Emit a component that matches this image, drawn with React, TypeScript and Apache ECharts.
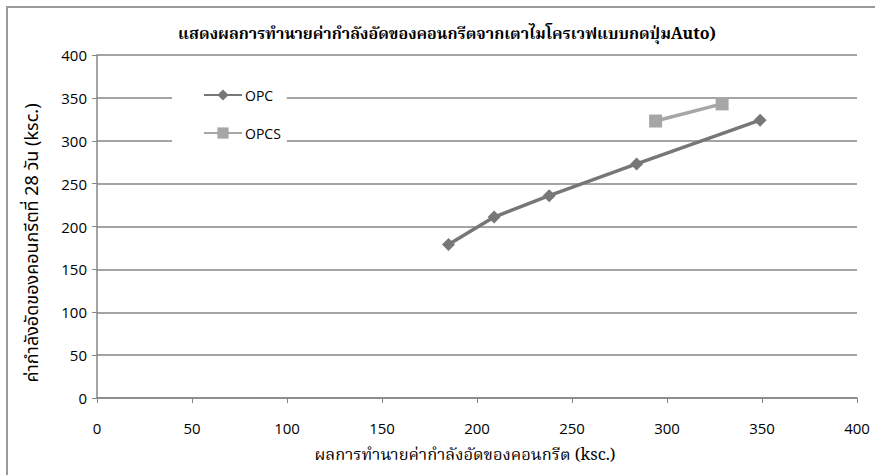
import React, { useEffect, useRef } from "react";
import * as echarts from "echarts";

const titleText = "แสดงผลการทำนายค่ากำลังอัดของคอนกรีตจากเตาไมโครเวฟแบบกดปุ่มAuto)";
const xAxisName = "ผลการทำนายค่ากำลังอัดของคอนกรีต (ksc.)";
const yAxisName = "ค่ากำลังอัดของคอนกรีตที่ 28 วัน (ksc.)";

const seriesNames = ["OPC", "OPCS"];
const opcX = [185, 209, 238, 284, 349];
const opcY = [179, 211, 236, 273, 324];
const opcsX = [294, 329];
const opcsY = [323, 343];

const axisMin = 0;
const axisMax = 400;
const axisInterval = 50;

const thaiSerif = "'Noto Serif Thai', 'Angsana New', 'Tlwg Typo', 'Norasi', 'Noto Sans Thai', 'Liberation Serif', serif";
const thaiSans = "'Noto Sans Thai', 'Tahoma', 'Loma', 'Garuda', 'Noto Sans', 'DejaVu Sans', sans-serif";
const numFont = "'Open Sans', 'Noto Sans', sans-serif";

export default function App() {
  const ref = useRef<HTMLDivElement>(null);
  useEffect(() => {
    if (!ref.current) return;
    const chart = echarts.init(ref.current, undefined, { renderer: "svg" });
    const gray = "#868686";
    chart.setOption({
      animation: false,
      backgroundColor: "#ffffff",
      grid: { left: 97, right: 18, top: 55, bottom: 77, containLabel: false },
      title: {
        text: titleText,
        left: 442,
        textAlign: "center",
        top: 22,
        textStyle: { fontFamily: thaiSerif, fontWeight: "bold", fontSize: 16, color: "#000" },
      },
      legend: {
        orient: "vertical",
        left: 172,
        top: 82,
        padding: [6, 6, 6, 31],
        itemGap: 24,
        itemWidth: 38,
        itemHeight: 14,
        backgroundColor: "#ffffff",
        textStyle: { fontFamily: numFont, fontSize: 14, color: "#000", padding: [0, 0, 0, -2] },
        data: seriesNames,
      },
      xAxis: {
        type: "value",
        min: axisMin,
        max: axisMax,
        interval: axisInterval,
        axisLine: { show: true, lineStyle: { color: gray, width: 1.5 } },
        axisTick: { show: true, length: 5, lineStyle: { color: gray } },
        axisLabel: { fontFamily: "'Liberation Sans Narrow', " + numFont, fontSize: 15, color: "#000", margin: 22 },
        splitLine: { show: false },
      },
      yAxis: {
        type: "value",
        min: axisMin,
        max: axisMax,
        interval: axisInterval,
        axisLine: { show: true, lineStyle: { color: gray, width: 1.5 } },
        axisTick: { show: true, length: 5, lineStyle: { color: gray } },
        axisLabel: { fontFamily: numFont, fontSize: 15, color: "#000", margin: 10 },
        splitLine: { show: true, lineStyle: { color: gray, width: 1.5 } },
      },
      series: [
        {
          name: seriesNames[0],
          type: "line",
          data: opcX.map((x, i) => [x, opcY[i]]),
          symbol: "diamond",
          symbolSize: 13,
          lineStyle: { color: "#777777", width: 3.5 },
          itemStyle: { color: "#777777" },
        },
        {
          name: seriesNames[1],
          type: "line",
          data: opcsX.map((x, i) => [x, opcsY[i]]),
          symbol: "rect",
          symbolSize: 13,
          lineStyle: { color: "#a6a6a6", width: 3.5 },
          itemStyle: { color: "#a6a6a6" },
        },
      ],
      graphic: [
        { type: "line", shape: { x1: 7, y1: 7, x2: 7, y2: 475 }, style: { stroke: "#9a9a9a", lineWidth: 2 } },
        { type: "line", shape: { x1: 6, y1: 7, x2: 875, y2: 7 }, style: { stroke: "#9a9a9a", lineWidth: 2 } },
        {
          type: "text",
          x: 465,
          y: 455,
          style: {
            text: xAxisName,
            fontFamily: thaiSerif,
            fontSize: 16.5,
            fill: "#000",
            align: "center",
            verticalAlign: "middle",
          },
        },
        {
          type: "text",
          x: 32,
          y: 243,
          rotation: Math.PI / 2,
          style: {
            text: yAxisName,
            fontFamily: thaiSans,
            fontSize: 18,
            fill: "#000",
            align: "center",
            verticalAlign: "middle",
          },
        },
      ],
    });
    return () => chart.dispose();
  }, []);
  return <div ref={ref} style={{ width: 875, height: 475, position: "absolute", left: 0, top: 0 }} />;
}
